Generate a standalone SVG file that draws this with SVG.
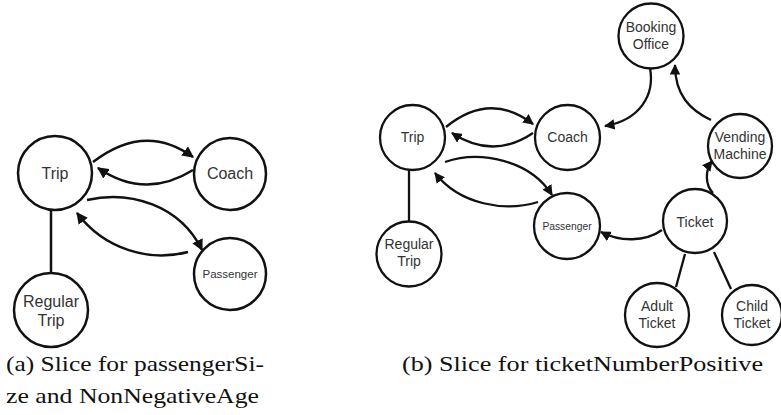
<svg xmlns="http://www.w3.org/2000/svg" width="781" height="415" viewBox="0 0 781 415">
<style>
.n{fill:#fff;stroke:#111;stroke-width:2.5}
.nb{fill:#fff;stroke:#111;stroke-width:2.3}
.e{fill:none;stroke:#111;stroke-width:2.5}
.eb{fill:none;stroke:#111;stroke-width:2.3}
.t{fill:#333;text-anchor:middle}
.a{font-size:16px}
.b{font-size:14px}
.cap{font-size:22px;fill:#111}
</style>
<defs>
<marker id="ar" viewBox="0 0 10 10" refX="9" refY="5" markerWidth="4.6" markerHeight="4.6" markerUnits="strokeWidth" orient="auto">
<path d="M0,0 L10,5 L0,10 z" fill="#111"/>
</marker>
</defs>
<g id="connectors">
<path class="e" d="M51,210 L51,273"/>
<path class="e" d="M93,162 Q145,122 193,157" marker-end="url(#ar)"/>
<path class="e" d="M193,170 Q145,200 98,168" marker-end="url(#ar)"/>
<path class="e" d="M87,200 C130,190 180,205 202,250" marker-end="url(#ar)"/>
<path class="e" d="M188,252 C150,262 105,250 77,213" marker-end="url(#ar)"/>
<path class="eb" d="M409,170 L409,222"/>
<path class="eb" d="M685,254 L676,287"/>
<path class="eb" d="M714,252 L731,289"/>
<path class="eb" d="M446,127 Q490,91 533,124" marker-end="url(#ar)"/>
<path class="eb" d="M533,133 Q493,160 452,133" marker-end="url(#ar)"/>
<path class="eb" d="M445,162 C480,150 530,160 552,195" marker-end="url(#ar)"/>
<path class="eb" d="M538,202 C505,212 460,205 435,173" marker-end="url(#ar)"/>
<path class="eb" d="M650,68 C655,95 640,120 605,126" marker-end="url(#ar)"/>
<path class="eb" d="M711,120 C690,110 675,95 675,65" marker-end="url(#ar)"/>
<path class="eb" d="M713,193 C705,185 705,170 712,161" marker-end="url(#ar)"/>
<path class="eb" d="M662,230 C645,242 620,242 601,232" marker-end="url(#ar)"/>
</g>
<g font-family="'Liberation Sans', Arial, Helvetica, sans-serif">
<g id="a-trip"><circle class="n" cx="55" cy="173" r="37"/><text class="t a" x="55" y="179">Trip</text></g>
<g id="a-coach"><circle class="n" cx="230" cy="174" r="36"/><text class="t a" x="230" y="179">Coach</text></g>
<g id="a-passenger"><circle class="n" cx="230" cy="274" r="36"/><text class="t" font-size="11.5" x="230" y="278">Passenger</text></g>
<g id="a-regulartrip"><circle class="n" cx="51" cy="310" r="37"/><text class="t a" x="51" y="307">Regular</text><text class="t a" x="51" y="326">Trip</text></g>
<g id="b-booking"><circle class="nb" cx="651" cy="36" r="32.5"/><text class="t b" x="651" y="32">Booking</text><text class="t b" x="651" y="48.5">Office</text></g>
<g id="b-trip"><circle class="nb" cx="412.5" cy="137.5" r="32.5"/><text class="t b" x="412.5" y="142">Trip</text></g>
<g id="b-coach"><circle class="nb" cx="567.5" cy="137.5" r="32.5"/><text class="t b" x="567.5" y="142">Coach</text></g>
<g id="b-vending"><circle class="nb" cx="740" cy="146" r="32"/><text class="t b" x="740" y="142">Vending</text><text class="t b" x="740" y="159">Machine</text></g>
<g id="b-passenger"><circle class="nb" cx="567" cy="226" r="33"/><text class="t" font-size="10.3" x="567" y="229.5">Passenger</text></g>
<g id="b-ticket"><circle class="nb" cx="695" cy="221" r="32"/><text class="t b" x="695" y="227">Ticket</text></g>
<g id="b-regulartrip"><circle class="nb" cx="409" cy="254" r="32.5"/><text class="t b" x="409" y="249">Regular</text><text class="t b" x="409" y="266">Trip</text></g>
<g id="b-adult"><circle class="nb" cx="657" cy="315" r="32"/><text class="t b" x="657" y="311">Adult</text><text class="t b" x="657" y="327.5">Ticket</text></g>
<g id="b-child"><circle class="nb" cx="752" cy="315" r="30"/><text class="t b" x="752" y="311">Child</text><text class="t b" x="752" y="327.5">Ticket</text></g>
</g>
<g id="captions" font-family="'Liberation Serif', 'Times New Roman', serif">
<text class="cap" x="6" y="371" textLength="258" lengthAdjust="spacingAndGlyphs">(a) Slice for passengerSi-</text>
<text class="cap" x="6" y="403" textLength="253" lengthAdjust="spacingAndGlyphs">ze and NonNegativeAge</text>
<text class="cap" x="402" y="371" textLength="361" lengthAdjust="spacingAndGlyphs">(b) Slice for ticketNumberPositive</text>
</g>
</svg>
